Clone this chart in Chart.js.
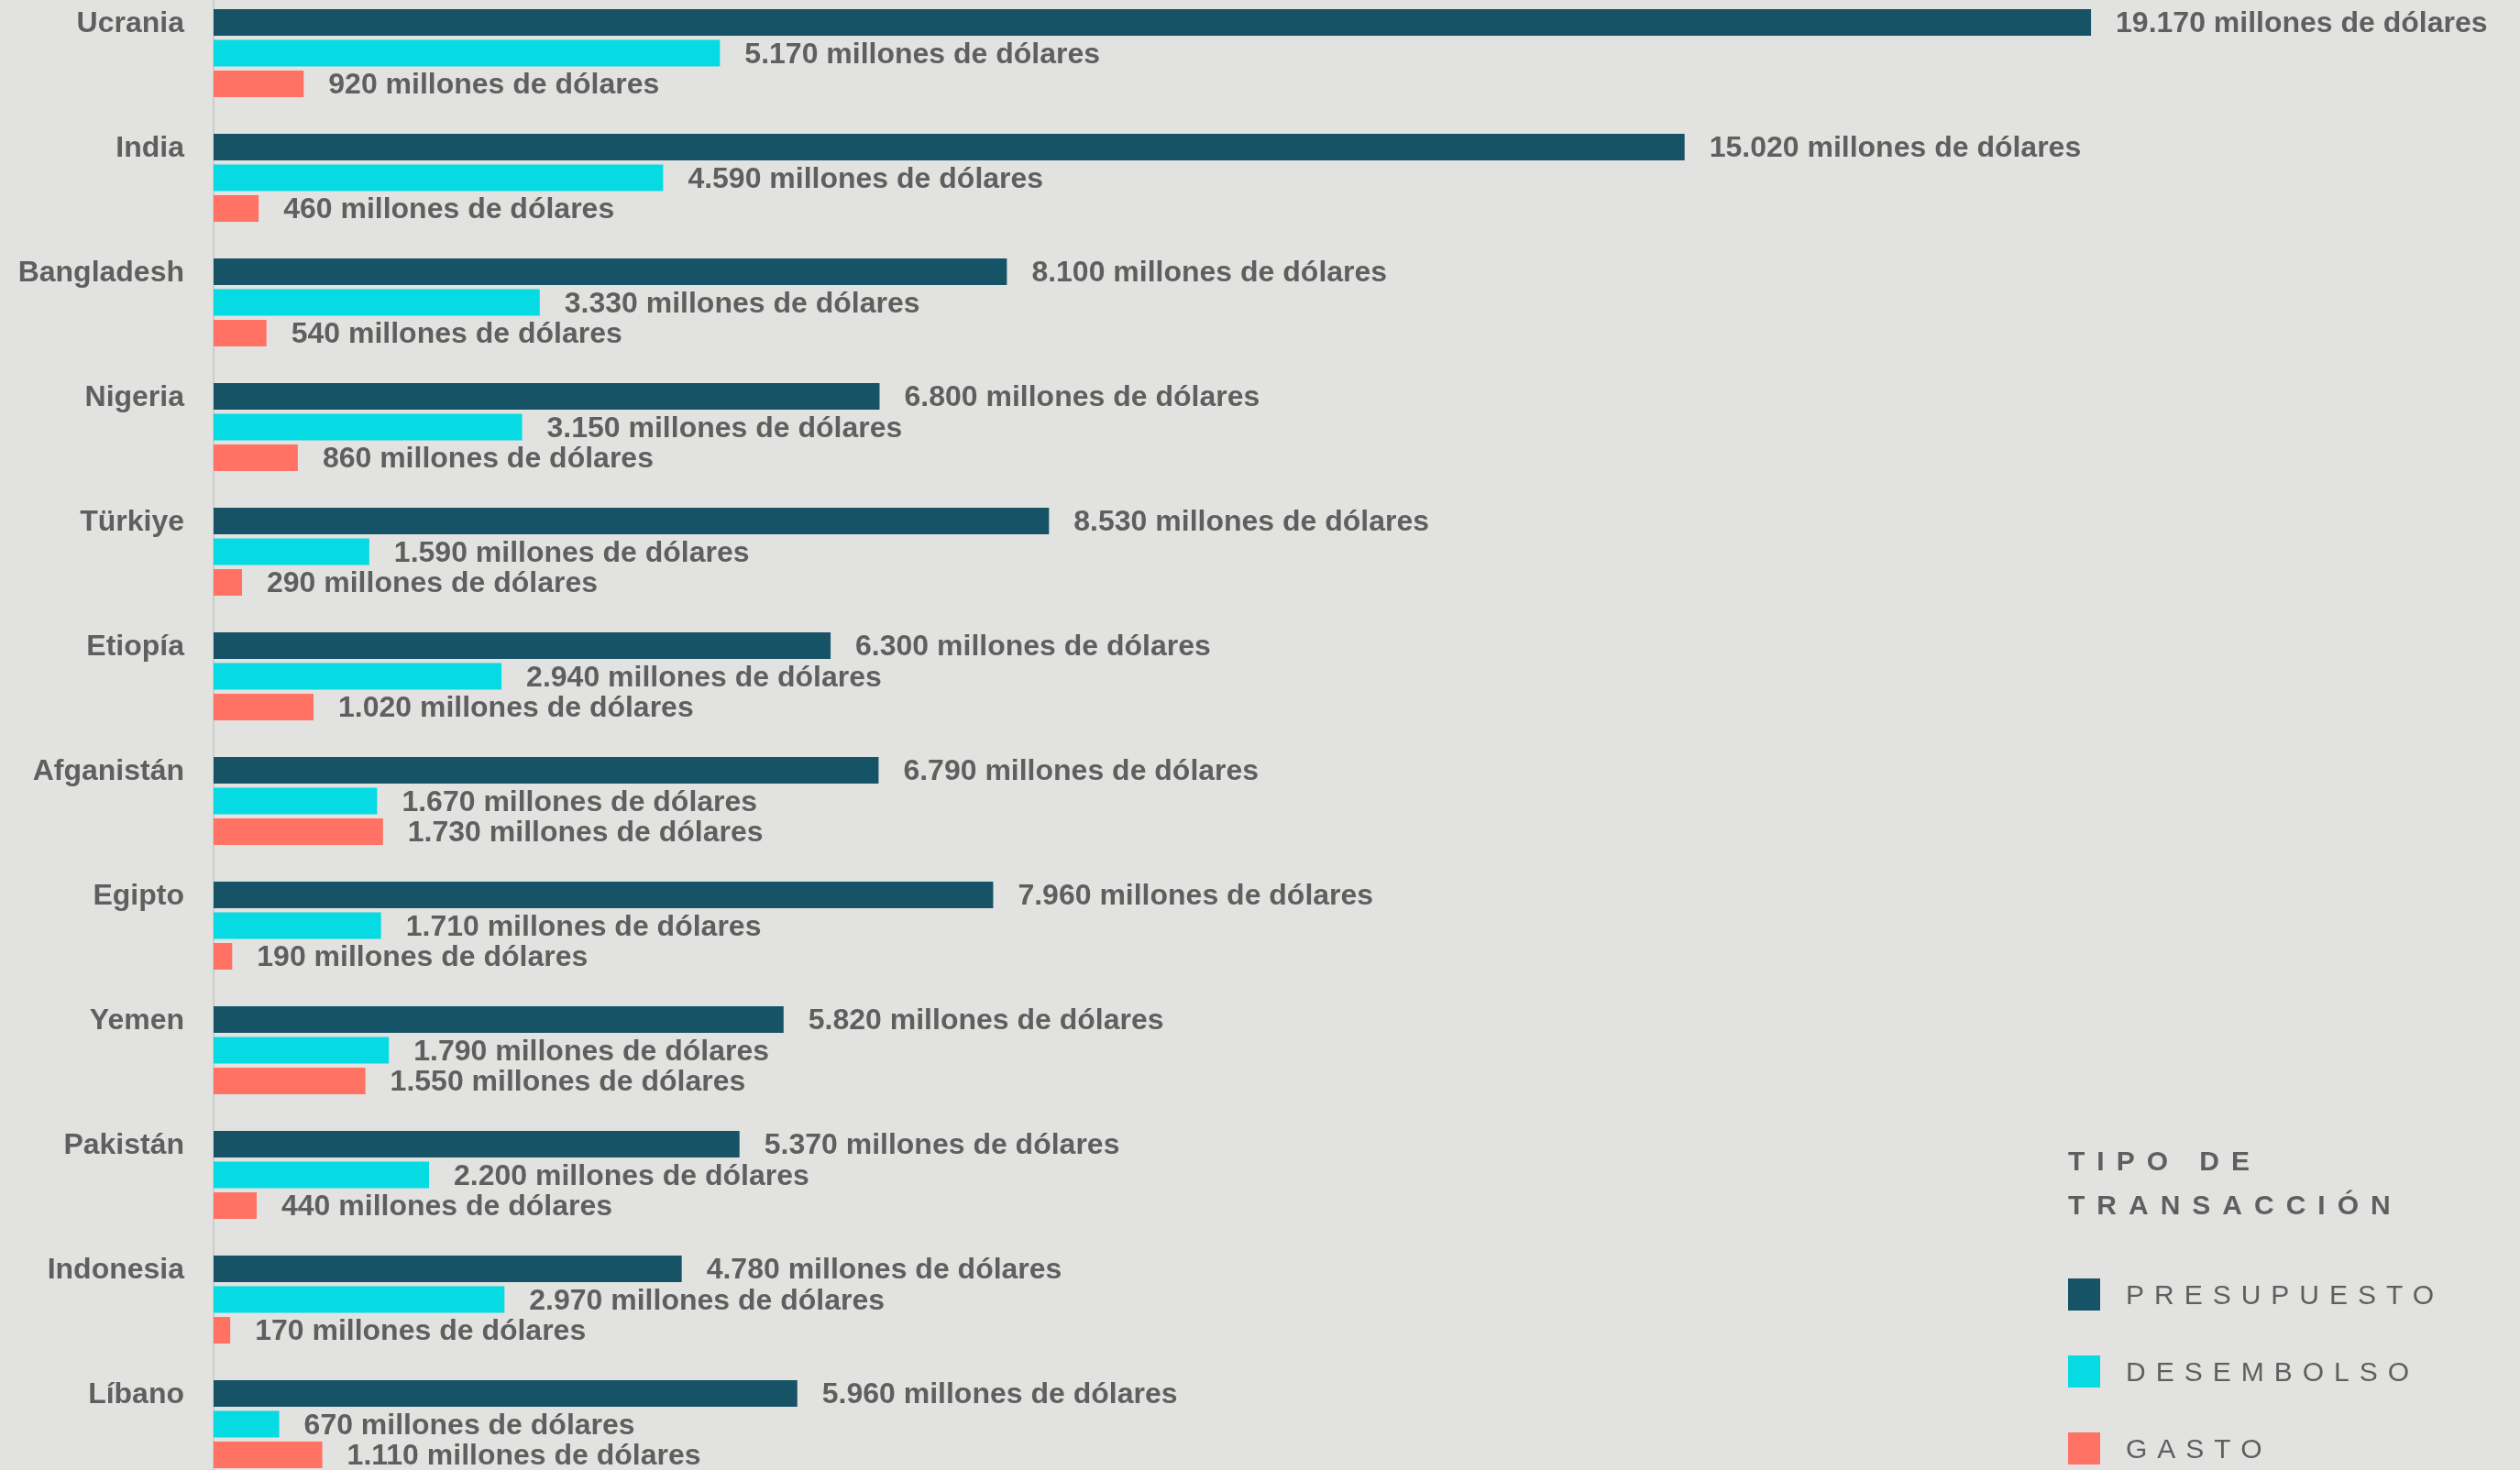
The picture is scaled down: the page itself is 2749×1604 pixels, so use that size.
<!DOCTYPE html>
<html lang="es">
<head>
<meta charset="utf-8">
<title>Tipo de transacción por país</title>
<script src="https://cdn.jsdelivr.net/npm/chart.js@4.4.1/dist/chart.umd.min.js"></script>
<style>
  html, body { margin: 0; padding: 0; background: #e2e2e0; overflow: hidden; }
  body { width: 2749px; height: 1604px; position: relative; font-family: "Liberation Sans", Arial, sans-serif; }
  #wrap { position: absolute; left: 0; top: -10px; width: 2749px; height: 1632px; }
  #legend { position: absolute; left: 2256px; top: 1243px; color: #5f5f5f; }
  #legend .title { font-weight: bold; font-size: 30px; letter-spacing: 13px; line-height: 48px; margin-bottom: 56px; }
  #legend .item { display: flex; align-items: center; height: 35px; margin-bottom: 49px; font-size: 30px; letter-spacing: 11px; }
  #legend .box { width: 35px; height: 35px; margin-right: 28px; }
</style>
</head>
<body>
<div id="wrap"><canvas id="chart"></canvas></div>
<div id="legend"></div>
<script>
const paises = ['Ucrania', 'India', 'Bangladesh', 'Nigeria', 'Türkiye', 'Etiopía', 'Afganistán', 'Egipto', 'Yemen', 'Pakistán', 'Indonesia', 'Líbano'];
// millones de dólares
const presupuesto = [19170, 15020, 8100, 6800, 8530, 6300, 6790, 7960, 5820, 5370, 4780, 5960];
const desembolso = [5170, 4590, 3330, 3150, 1590, 2940, 1670, 1710, 1790, 2200, 2970, 670];
const gasto = [920, 460, 540, 860, 290, 1020, 1730, 190, 1550, 440, 170, 1110];

const GRIS = '#5f5f5f';
const FUENTE = '"Liberation Sans", Arial, sans-serif';

function fmt(v) {
    return String(v).replace(/\B(?=(\d{3})+(?!\d))/g, '.');
}

// etiquetas de valor a la derecha de cada barra
const valueLabels = {
    id: 'valueLabels',
    afterDatasetsDraw(chart) {
        const ctx = chart.ctx;
        ctx.save();
        ctx.font = 'bold 32px ' + FUENTE;
        ctx.fillStyle = GRIS;
        ctx.textAlign = 'left';
        ctx.textBaseline = 'middle';
        chart.data.datasets.forEach((ds, i) => {
            chart.getDatasetMeta(i).data.forEach((bar, j) => {
                ctx.fillText(fmt(ds.data[j]) + ' millones de dólares', bar.x + 27, bar.y + 2);
            });
        });
        ctx.restore();
    }
};

const ctx = document.getElementById('chart').getContext('2d');
const chart = new Chart(ctx, {
    type: 'bar',
    data: {
        labels: paises,
        datasets: [
            { label: 'Presupuesto', data: presupuesto, backgroundColor: '#175366' },
            { label: 'Desembolso', data: desembolso, backgroundColor: '#06dbe3' },
            { label: 'Gasto', data: gasto, backgroundColor: '#ff7264' }
        ]
    },
    options: {
        indexAxis: 'y',
        responsive: true,
        maintainAspectRatio: false,
        animation: false,
        layout: { padding: 0 },
        categoryPercentage: 0.739,
        barPercentage: 0.866,
        scales: {
            x: {
                display: false,
                min: 0,
                max: 23550
            },
            y: {
                grid: { display: false },
                border: { display: true, color: '#cdcdcb', width: 2 },
                ticks: {
                    color: GRIS,
                    font: { family: FUENTE, size: 32, weight: 'bold' },
                    padding: 24,
                    labelOffset: -32
                },
                afterFit(scale) {
                    scale.width = 233;
                    scale.paddingTop = 0;
                    scale.paddingBottom = 0;
                }
            }
        },
        plugins: {
            legend: { display: false },
            tooltip: { enabled: false }
        }
    },
    plugins: [valueLabels]
});

// leyenda
const legend = document.getElementById('legend');
legend.innerHTML = '<div class="title">TIPO DE<br>TRANSACCIÓN</div>' +
    chart.data.datasets.map(ds =>
        `<div class="item"><span class="box" style="background:${ds.backgroundColor}"></span>${ds.label.toUpperCase()}</div>`
    ).join('');
</script>
</body>
</html>
